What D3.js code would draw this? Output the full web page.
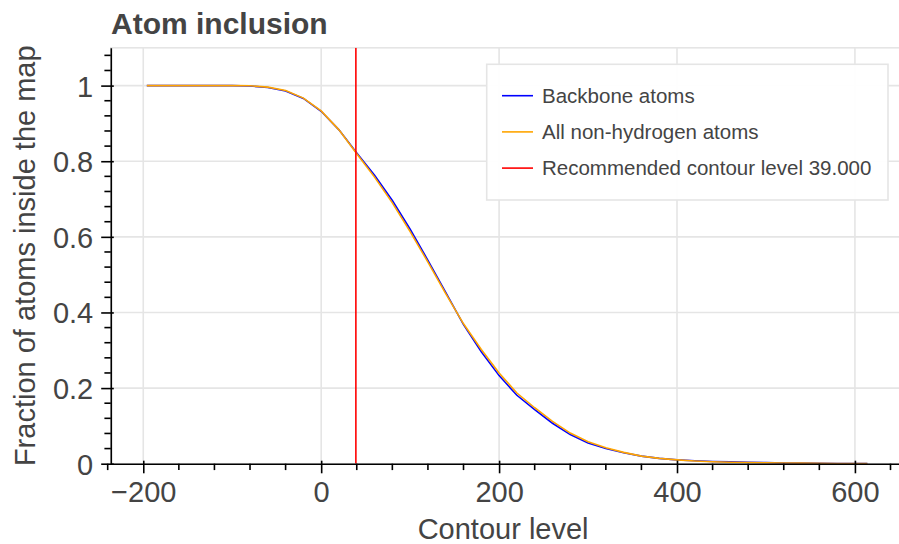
<!DOCTYPE html>
<html>
<head>
<meta charset="utf-8">
<script src="https://cdn.jsdelivr.net/npm/d3@7/dist/d3.min.js"></script>
<style>
  html, body { margin: 0; padding: 0; background: #fff; overflow: hidden; }
  svg { display: block; font-family: "Liberation Sans", Arial, Helvetica, sans-serif; }
</style>
</head>
<body>
<svg id="chart" width="899" height="544"></svg>
<script>
// ---- data ----
const contourLevels = [-196, -180, -160, -140, -120, -100, -80, -60, -40, -20, 0, 20, 40, 60, 80, 100, 120, 140, 160, 180, 200, 220, 240, 260, 280, 300, 320, 340, 360, 380, 400, 420, 440, 460, 480, 500, 520, 540, 560, 580, 600, 614];
const backboneFraction = [1.0, 1.0, 1.0, 1.0, 1.0, 1.0, 0.999, 0.995, 0.986, 0.966, 0.932, 0.883, 0.822, 0.763, 0.696, 0.620, 0.538, 0.453, 0.368, 0.296, 0.233, 0.181, 0.143, 0.107, 0.077, 0.055, 0.040, 0.029, 0.020, 0.014, 0.010, 0.008, 0.006, 0.005, 0.004, 0.003, 0.002, 0.0015, 0.001, 0.0006, 0.0003, 0.0001];
const allAtomsFraction = [1.0, 1.0, 1.0, 1.0, 1.0, 1.0, 0.9995, 0.996, 0.987, 0.967, 0.933, 0.883, 0.820, 0.758, 0.690, 0.614, 0.533, 0.450, 0.370, 0.302, 0.240, 0.187, 0.148, 0.112, 0.081, 0.058, 0.042, 0.030, 0.020, 0.014, 0.010, 0.007, 0.005, 0.004, 0.003, 0.0025, 0.002, 0.0015, 0.001, 0.0007, 0.0004, 0.0002];
const recommendedLevel = 39.0;
const xTicks = [-200, 0, 200, 400, 600];
const yTicks = [0, 0.2, 0.4, 0.6, 0.8, 1];
const yTickLabels = ["0", "0.2", "0.4", "0.6", "0.8", "1"];
const seriesNames = ["Backbone atoms", "All non-hydrogen atoms", "Recommended contour level 39.000"];
const seriesColors = ["#0000ff", "#ffa500", "#ff0000"];

// ---- layout ----
const svg = d3.select("#chart");
const L = 110.8, R = 903.4, T = 47.8, B = 463.7;
const x = d3.scaleLinear().domain([-236.5, 654.5]).range([L, R]);
const y = d3.scaleLinear().domain([0, 1.1]).range([B, T]);
const textColor = "#444444";

svg.append("defs").append("clipPath").attr("id", "plotclip")
  .append("rect").attr("x", L).attr("y", T).attr("width", R - L).attr("height", B - T);

// outline
svg.append("rect").attr("x", L).attr("y", T).attr("width", R - L).attr("height", B - T)
  .attr("fill", "none").attr("stroke", "#e5e5e5").attr("stroke-width", 1.6);

// grid
const grid = svg.append("g").attr("stroke", "#e5e5e5").attr("stroke-width", 1.6);
grid.selectAll("line.vx").data(xTicks).join("line")
  .attr("x1", d => x(d)).attr("x2", d => x(d)).attr("y1", T).attr("y2", B);
grid.selectAll("line.hy").data(yTicks).join("line")
  .attr("x1", L).attr("x2", R).attr("y1", d => y(d)).attr("y2", d => y(d));

// series
const plot = svg.append("g").attr("clip-path", "url(#plotclip)");
const line = d3.line().x(d => x(d[0])).y(d => y(d[1]));
plot.append("path").datum(contourLevels.map((c, i) => [c, backboneFraction[i]]))
  .attr("d", line).attr("fill", "none").attr("stroke", seriesColors[0]).attr("stroke-width", 1.6);
plot.append("path").datum(contourLevels.map((c, i) => [c, allAtomsFraction[i]]))
  .attr("d", line).attr("fill", "none").attr("stroke", seriesColors[1]).attr("stroke-width", 1.6);
plot.append("line")
  .attr("x1", x(recommendedLevel)).attr("x2", x(recommendedLevel))
  .attr("y1", T).attr("y2", B)
  .attr("stroke", seriesColors[2]).attr("stroke-width", 1.6);

// axes
const xMinor = d3.range(-240, 641, 40).filter(v => xTicks.indexOf(v) < 0);
const yMinor = d3.range(0, 28).map(i => +(i * 0.04).toFixed(2)).filter(v => v <= 1.1 && Math.abs(v / 0.2 - Math.round(v / 0.2)) > 1e-6);

const xAxis = d3.axisBottom(x).tickValues(xTicks).tickSizeInner(9.6).tickSizeOuter(0).tickPadding(7)
  .tickFormat(d => d < 0 ? "\u2212" + Math.abs(d) : String(d));
const gx = svg.append("g").attr("transform", `translate(0,${B})`).call(xAxis);
gx.select(".domain").attr("stroke", "#000").attr("stroke-width", 1.6);
gx.selectAll(".tick line").attr("stroke", "#000").attr("stroke-width", 1.6).attr("y1", -3);
gx.selectAll(".tick text").attr("fill", textColor).attr("font-size", 29).attr("dy", "0.74em");
gx.selectAll("line.minor").data(xMinor).join("line").attr("class", "minor")
  .attr("x1", d => x(d)).attr("x2", d => x(d)).attr("y1", 0).attr("y2", 6.4)
  .attr("stroke", "#000").attr("stroke-width", 1.6);

const yAxis = d3.axisLeft(y).tickValues(yTicks).tickSizeInner(9.6).tickSizeOuter(0).tickPadding(8)
  .tickFormat((d, i) => yTickLabels[i]);
const gy = svg.append("g").attr("transform", `translate(${L},0)`).call(yAxis);
gy.select(".domain").attr("stroke", "#000").attr("stroke-width", 1.6);
gy.selectAll(".tick line").attr("stroke", "#000").attr("stroke-width", 1.6).attr("x1", 3);
gy.selectAll(".tick text").attr("fill", textColor).attr("font-size", 29).attr("dy", "0.36em");
gy.selectAll("line.minor").data(yMinor).join("line").attr("class", "minor")
  .attr("y1", d => y(d)).attr("y2", d => y(d)).attr("x1", 0).attr("x2", -6.4)
  .attr("stroke", "#000").attr("stroke-width", 1.6);
gx.attr("font-family", null); gy.attr("font-family", null);

// axis labels
svg.append("text").attr("x", (L + R) / 2 - 4).attr("y", 539)
  .attr("text-anchor", "middle").attr("fill", textColor).attr("font-size", 29)
  .text("Contour level");
svg.append("text").attr("transform", `translate(35,${(T + B) / 2}) rotate(-90)`)
  .attr("text-anchor", "middle").attr("fill", textColor).attr("font-size", 29)
  .text("Fraction of atoms inside the map");

// title
svg.append("text").attr("x", 111).attr("y", 33.5)
  .attr("fill", textColor).attr("font-size", 30).attr("font-weight", "bold")
  .text("Atom inclusion");

// legend
const lg = svg.append("g");
lg.append("rect").attr("x", 486.7).attr("y", 64.3).attr("width", 401.3).attr("height", 135.7)
  .attr("fill", "#fff").attr("fill-opacity", 0.95).attr("stroke", "#e5e5e5").attr("stroke-width", 1.6);
const rows = lg.selectAll("g.row").data(seriesNames).join("g").attr("class", "row")
  .attr("transform", (d, i) => `translate(0,${95.7 + i * 36.2})`);
rows.append("line").attr("x1", 502).attr("x2", 533).attr("y1", 0).attr("y2", 0)
  .attr("stroke", (d, i) => seriesColors[i]).attr("stroke-width", 1.6);
rows.append("text").attr("x", 542).attr("y", 0).attr("dy", "0.35em")
  .attr("fill", textColor).attr("font-size", 20.5).text(d => d);
</script>
</body>
</html>
